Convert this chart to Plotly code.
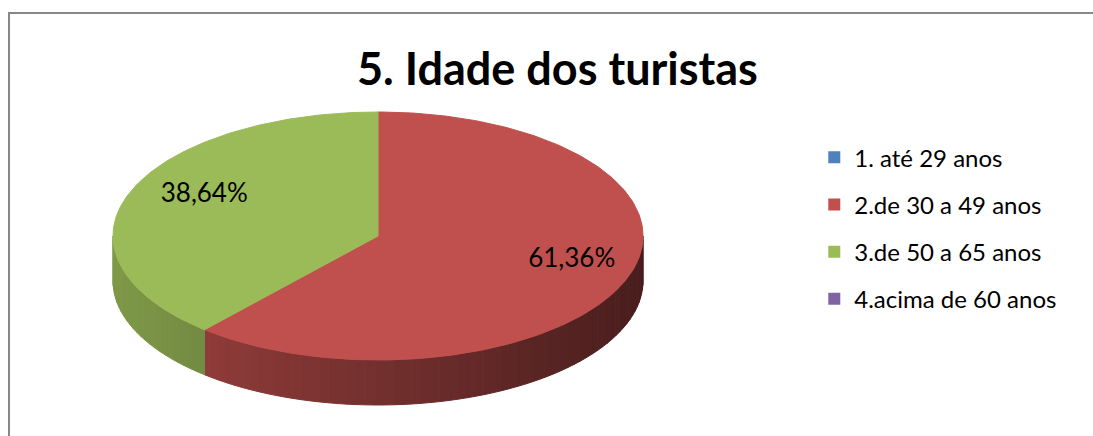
import numpy as np
import plotly.graph_objects as go

# data
categories = ["1. até 29 anos", "2.de 30 a 49 anos", "3.de 50 a 65 anos", "4.acima de 60 anos"]
percentages = [0.0, 61.36, 38.64, 0.0]
colors = ["#4F81BD", "#C0504D", "#9BBB59", "#8064A2"]
title = "5. Idade dos turistas"

W, H = 1093, 436
FONT = "Lato"

# pie geometry (pixel space, y down)
cx, cy = 378, 236
rx, ry = 265, 124
depth = 45


def _pt(theta_deg, k=1.0):
    t = np.radians(theta_deg)
    return cx + k * rx * np.sin(t), cy - k * ry * np.cos(t)


def _hex(c):
    c = c.lstrip("#")
    return [int(c[i:i + 2], 16) for i in (0, 2, 4)]


def _shade(c, f):
    r, g, b = _hex(c)
    return f"rgb({int(r*f)},{int(g*f)},{int(b*f)})"


def _side_factor(x):
    return 0.82 - (x - (cx - rx)) / (2 * rx) * 0.44


fig = go.Figure()

total = sum(percentages)
starts = np.cumsum([0] + percentages[:-1]) / total * 360
ends = np.cumsum(percentages) / total * 360

# sides (front half: 90..270 deg)
for s, e, col in zip(starts, ends, colors):
    a0, a1 = max(s, 90), min(e, 270)
    if a1 <= a0:
        continue
    n = max(2, int((a1 - a0) / 2))
    th = np.linspace(a0, a1, n + 1)
    for i in range(n):
        xa, ya = _pt(th[i])
        xb, yb = _pt(th[i + 1])
        c = _shade(col, _side_factor((xa + xb) / 2))
        fig.add_trace(go.Scatter(
            x=[xa, xb, xb, xa, xa], y=[ya, yb, yb + depth, ya + depth, ya],
            mode="lines", fill="toself", fillcolor=c, line=dict(color=c, width=1),
            hoverinfo="skip", showlegend=False))

# top faces
for s, e, col in zip(starts, ends, colors):
    if e - s <= 0:
        continue
    th = np.linspace(s, e, max(3, int(e - s)))
    xs, ys = _pt(th)
    fig.add_trace(go.Scatter(
        x=np.r_[cx, xs, cx], y=np.r_[cy, ys, cy],
        mode="lines", fill="toself", fillcolor=col, line=dict(color=col, width=1),
        hoverinfo="skip", showlegend=False))

# percentage labels
for s, e, v in zip(starts, ends, percentages):
    if v <= 0:
        continue
    lx, ly = _pt((s + e) / 2, 0.74)
    fig.add_trace(go.Scatter(
        x=[lx + 10], y=[ly - 8], mode="text", text=[f"{v:.2f}%".replace(".", ",")],
        textfont=dict(family=FONT, size=26, color="#000000"),
        hoverinfo="skip", showlegend=False))

# legend entries
for i, (name, col) in enumerate(zip(categories, colors)):
    fig.add_trace(go.Scatter(
        x=[None], y=[None], mode="markers", name=name, legendgroup=str(i),
        marker=dict(symbol="square", size=12, color=col)))

fig.update_layout(
    width=W, height=H,
    margin=dict(l=0, r=0, t=0, b=0),
    paper_bgcolor="white", plot_bgcolor="white",
    xaxis=dict(range=[0, W], visible=False, fixedrange=True),
    yaxis=dict(range=[H, 0], visible=False, fixedrange=True),
    legend=dict(x=0.745, y=0.69, xanchor="left", yanchor="top",
                font=dict(family=FONT, size=24, color="#000000"),
                tracegroupgap=13, itemwidth=30, bgcolor="rgba(0,0,0,0)"),
    annotations=[dict(text=f"<b>{title}</b>", x=557, y=68, xref="x", yref="y",
                      showarrow=False, font=dict(family=FONT, size=45, color="#000000"))],
    shapes=[dict(type="rect", xref="x", yref="y", x0=9, y0=13, x1=W + 10, y1=H + 10,
                 line=dict(color="#878787", width=2))],
)

fig.write_html("out.html", config={"displayModeBar": False},
               post_script="document.body.style.margin='0px';")
